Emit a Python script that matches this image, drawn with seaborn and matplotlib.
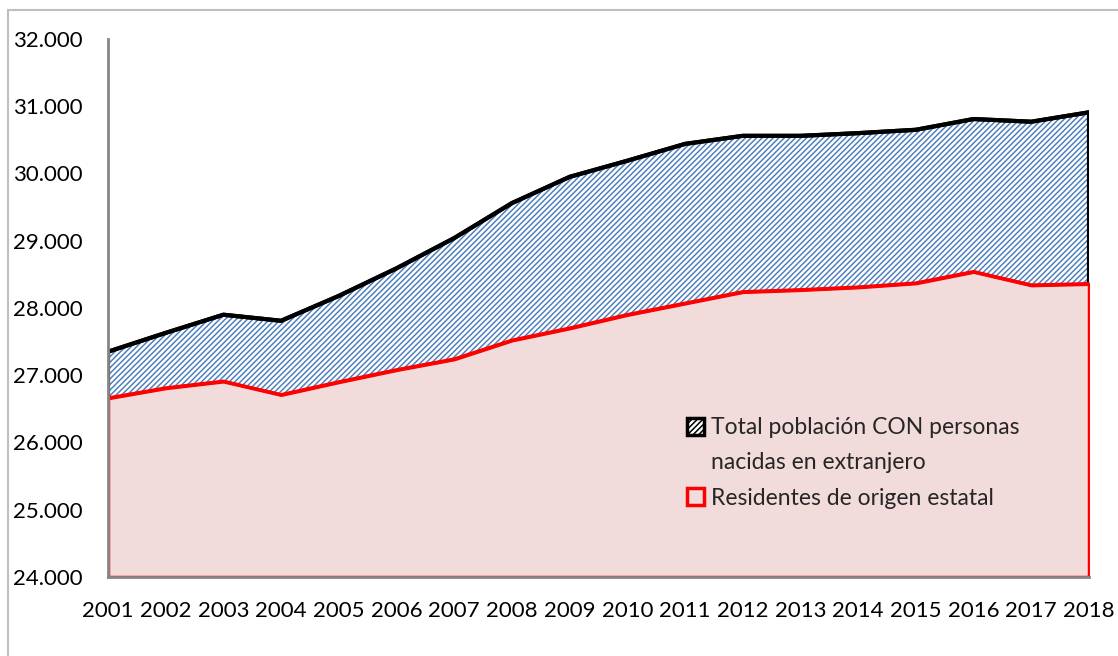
import numpy as np
import pandas as pd
import matplotlib
matplotlib.use('Agg')
import matplotlib.pyplot as plt
from matplotlib.patches import Patch, Rectangle
from matplotlib.ticker import FuncFormatter
import seaborn as sns

# datos (miles)
years = list(range(2001, 2019))
total = [27350, 27630, 27900, 27810, 28180, 28590, 29040, 29560, 29950, 30190,
         30440, 30560, 30560, 30600, 30650, 30810, 30770, 30910]
residentes = [26660, 26810, 26910, 26710, 26900, 27080, 27240, 27520, 27700, 27900,
              28070, 28240, 28270, 28310, 28370, 28540, 28340, 28360]
lab_total = ['Total población CON personas', 'nacidas en extranjero']
lab_res = 'Residentes de origen estatal'

sns.set_style('white')
plt.rcParams['font.family'] = ['Lato', 'DejaVu Sans']
plt.rcParams['hatch.linewidth'] = 1.1

df = pd.DataFrame({'year': years, 'total': total, 'res': residentes})
ymin = 24000

fig = plt.figure(figsize=(11.18, 6.56), dpi=100)
ax = fig.add_axes([108/1118, 79/656, 981/1118, 538/656])

# area total con rayado azul
ax.fill_between(df['year'], ymin, df['total'], facecolor='white', edgecolor='#4F81BD',
                hatch='//////', linewidth=0, zorder=1)
ax.fill_between(df['year'], ymin, df['total'], facecolor='none', edgecolor='black',
                linewidth=3, zorder=2)
# area residentes
ax.fill_between(df['year'], ymin, df['res'], facecolor='#F2DCDB', edgecolor='#FF0000',
                linewidth=2.5, zorder=3)
sns.lineplot(data=df, x='year', y='total', color='black', lw=3, ax=ax, zorder=4)
sns.lineplot(data=df, x='year', y='res', color='#FF0000', lw=2.5, ax=ax, zorder=4)

ax.set_xlim(2001, 2018)
ax.set_ylim(ymin, 32000)
ax.set_xticks(years)
ax.set_yticks(np.arange(24000, 32001, 1000))
ax.yaxis.set_major_formatter(FuncFormatter(lambda v, p: f'{v:,.0f}'.replace(',', '.')))
ax.set_xlabel('')
ax.set_ylabel('')
ax.tick_params(axis='both', labelsize=16, colors='#868686', labelcolor='black',
               length=5.5, width=1.5, direction='out')
ax.tick_params(axis='x', pad=12)
ax.tick_params(axis='y', pad=12.5)
for s in ['top', 'right']:
    ax.spines[s].set_visible(False)
for s in ['left', 'bottom']:
    ax.spines[s].set_color('#868686')
    ax.spines[s].set_linewidth(2)
    ax.spines[s].set_zorder(5)

handles = [Patch(facecolor='white', edgecolor='black', hatch='//////', linewidth=2.5),
           Patch(facecolor='none', edgecolor='none', linewidth=0),
           Patch(facecolor='#F2DCDB', edgecolor='#FF0000', linewidth=2.5)]
leg = ax.legend(handles, lab_total + [lab_res], loc='upper left',
                bbox_to_anchor=(0.59, 0.297), frameon=False, fontsize=16.5,
                handlelength=0.75, handleheight=0.75, handletextpad=0.3,
                borderpad=0, borderaxespad=0, labelspacing=0.62)

# marco exterior
fig.patches.append(Rectangle((8/1118, -0.05), 1.2, (646/656) + 0.05, transform=fig.transFigure,
                             facecolor='none', edgecolor='#BFBFBF', linewidth=1.5))

plt.savefig('out.png', dpi=100)
